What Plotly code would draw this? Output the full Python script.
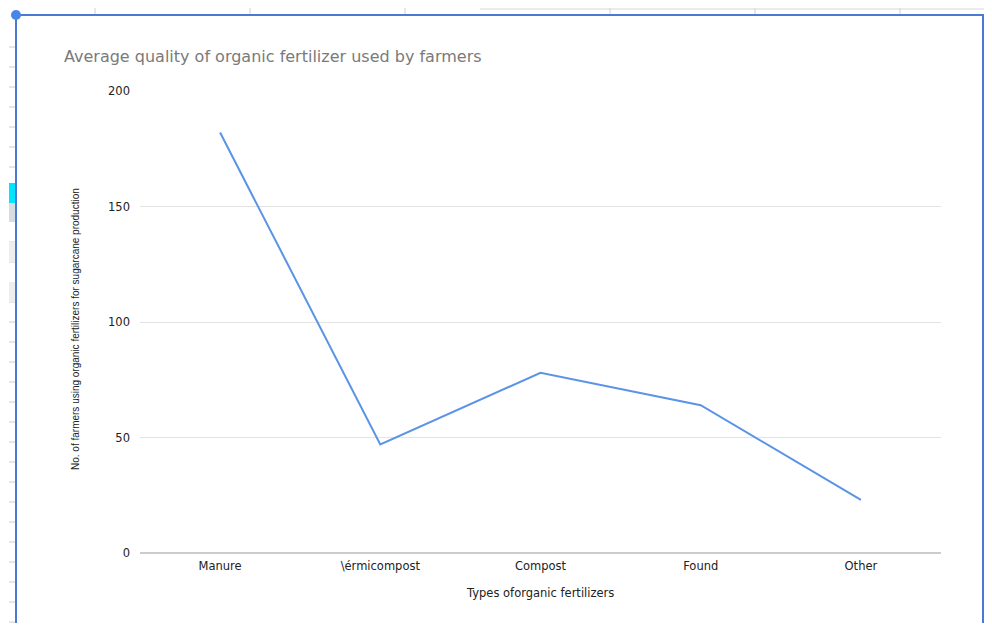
import plotly.graph_objects as go

categories = ["Manure", "Vermicompost", "Compost", "Found", "Other"]
tick_labels = ["Manure", "\u005c\u00e9rmicompost", "Compost", "Found", "Other"]
farmers = [182, 47, 78, 64, 23]
y_ticks = [0, 50, 100, 150, 200]

# page body has an 8px margin; compensate so the picture lands where the reference is
O = 8
VW, VH = 992, 631
W, H = VW - O, VH - 2 * O
L, R, T = 140 - O, 51, 91 - O
B = H - (553 - O)
PW, PH = W - L - R, H - T - B


def px(x):
    return (x - O - L) / PW


def py(y):
    return (H - B - (y - O)) / PH


fig = go.Figure()
fig.add_trace(go.Scatter(
    x=categories, y=farmers, mode="lines",
    line=dict(color="#5b93e6", width=2),
    hoverinfo="x+y", showlegend=False,
))

shapes = []
# spreadsheet decoration outside chart
for x in [95, 250, 405, 610, 755, 900]:
    shapes.append(dict(type="line", xref="paper", yref="paper", x0=px(x), x1=px(x), y0=py(0), y1=py(15),
                       line=dict(color="#d0d0d0", width=1)))
shapes.append(dict(type="line", xref="paper", yref="paper", x0=px(480), x1=px(992), y0=py(9), y1=py(9),
                   line=dict(color="#d6d6d6", width=1)))
for y in [47, 67, 87, 107, 127, 147, 167, 242, 262, 302, 322, 342, 362, 382, 402, 422, 442, 462, 482, 502, 522, 542, 562, 582, 602, 622]:
    shapes.append(dict(type="line", xref="paper", yref="paper", x0=px(9), x1=px(15), y0=py(y), y1=py(y),
                       line=dict(color="#cccccc", width=1)))
shapes.append(dict(type="rect", xref="paper", yref="paper", x0=px(9), x1=px(16), y0=py(183), y1=py(203),
                   fillcolor="#00e5ff", line=dict(width=0)))
shapes.append(dict(type="rect", xref="paper", yref="paper", x0=px(9), x1=px(16), y0=py(203), y1=py(222),
                   fillcolor="#d3dde2", line=dict(width=0)))
shapes.append(dict(type="rect", xref="paper", yref="paper", x0=px(9), x1=px(16), y0=py(242), y1=py(262),
                   fillcolor="#eeeeee", line=dict(width=0)))
shapes.append(dict(type="rect", xref="paper", yref="paper", x0=px(9), x1=px(16), y0=py(282), y1=py(302),
                   fillcolor="#eeeeee", line=dict(width=0)))
# blue selection border
shapes.append(dict(type="rect", xref="paper", yref="paper", x0=px(16), x1=px(983), y0=py(15), y1=py(660),
                   line=dict(color="#4a7bd4", width=2), fillcolor="rgba(0,0,0,0)"))
shapes.append(dict(type="circle", xref="paper", yref="paper", x0=px(11), x1=px(21), y0=py(10), y1=py(20),
                   fillcolor="#4a86e8", line=dict(width=0)))
# x axis baseline
shapes.append(dict(type="line", xref="paper", yref="paper", x0=0, x1=1, y0=0, y1=0,
                   line=dict(color="#999999", width=1)))

TXT = "DejaVu Sans, Liberation Sans, Arial, sans-serif"

fig.update_layout(
    width=W, height=H,
    margin=dict(l=L, r=R, t=T, b=B),
    paper_bgcolor="white", plot_bgcolor="white",
    font=dict(family=TXT, color="#222222"),
    title=dict(text="Average quality of organic fertilizer used by farmers",
               x=(64 - O) / W, y=1 - (56 - O) / H, xref="container", yref="container",
               xanchor="left", yanchor="middle",
               font=dict(size=16, color="#7a7a7a", family=TXT)),
    xaxis=dict(
        type="category", tickmode="array", tickvals=categories, ticktext=tick_labels,
        showgrid=False, showline=False,
        ticks="", tickfont=dict(size=11.5, color="#222222"), ticklabelstandoff=4,
        range=[-0.5, 4.5], fixedrange=True,
    ),
    yaxis=dict(
        range=[0, 200], tickmode="array", tickvals=y_ticks,
        showgrid=True, gridcolor="#e3e3e3", gridwidth=1,
        zeroline=False, showline=False,
        ticks="", tickfont=dict(size=11.5, color="#222222"), ticklabelstandoff=9,
        fixedrange=True,
    ),
    shapes=shapes,
    annotations=[
        dict(text="Types of\u200borganic fertilizers", xref="paper", yref="paper",
             x=px(540), y=py(593), xanchor="center", yanchor="middle", showarrow=False,
             font=dict(size=11.5, color="#222222")),
        dict(text="No. of farmers using organic fertilizers for sugarcane production",
             xref="paper", yref="paper", x=px(75), y=py(329), xanchor="center", yanchor="middle",
             textangle=-90, showarrow=False,
             font=dict(size=10, color="#222222", family="Liberation Sans Narrow, Liberation Sans, Arial, sans-serif")),
    ],
)

fig.write_html("out.html")
